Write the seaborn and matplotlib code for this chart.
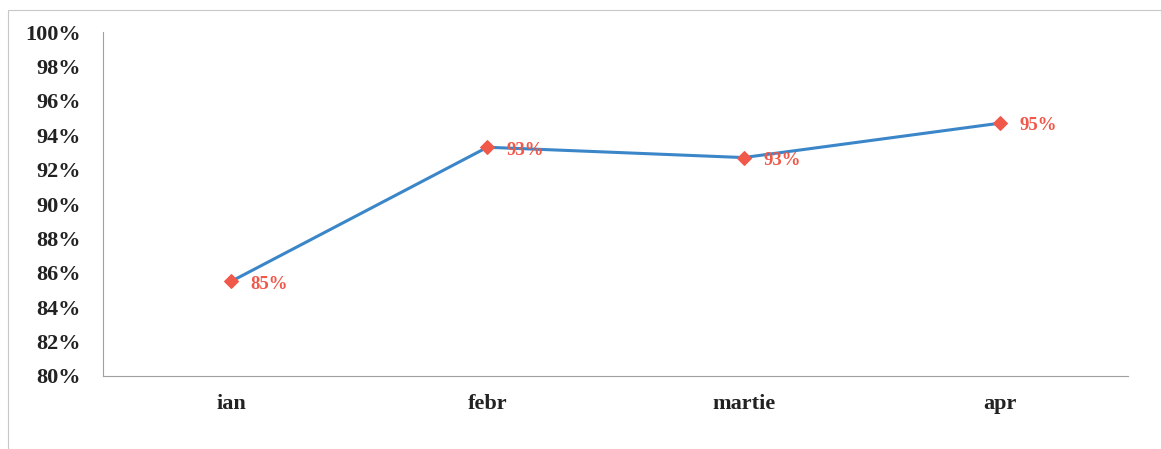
import numpy as np
import pandas as pd
import matplotlib
matplotlib.use("Agg")
import matplotlib.pyplot as plt
import seaborn as sns
from matplotlib.patches import Rectangle
from matplotlib.ticker import FixedLocator, PercentFormatter

# data
months = ["ian", "febr", "martie", "apr"]
values = [85.5, 93.3, 92.7, 94.7]
labels = ["85%", "93%", "93%", "95%"]

sns.set_style("white")
plt.rcParams['font.family'] = ['Liberation Serif', 'DejaVu Serif']

df = pd.DataFrame({"pos": np.arange(len(months)), "val": values})

fig = plt.figure(figsize=(11.61, 4.49), dpi=100)
ax = fig.add_axes([0.0887, 0.1626, 0.8829, 0.7661])

# outer chart border
fig.add_artist(Rectangle((8 / 1161, -0.05), 1.1, 1 - 10 / 449 + 0.05,
                         transform=fig.transFigure, fill=False,
                         edgecolor="#c8c8c8", linewidth=0.8))

sns.lineplot(data=df, x="pos", y="val", ax=ax, color="#3a86c8", linewidth=2.2,
             marker="D", markersize=7.5, markerfacecolor="#f0584a",
             markeredgecolor="#f0584a")

for x, y, t in zip(df["pos"], df["val"], labels):
    ax.annotate(t, (x, y), xytext=(14, -2), textcoords="offset points",
                ha="left", va="center", color="#f0584a", fontsize=13.5,
                fontweight="bold")

ax.set_xlim(-0.5, len(months) - 0.5)
ax.set_ylim(80, 100)
ax.yaxis.set_major_locator(FixedLocator(np.arange(80, 101, 2)))
ax.yaxis.set_major_formatter(PercentFormatter(decimals=0))
ax.set_xticks(np.arange(len(months)))
ax.set_xticklabels(months)
ax.xaxis.set_minor_locator(FixedLocator(np.arange(-0.5, len(months), 1)))
ax.tick_params(axis="x", which="major", length=0, pad=13, labelsize=16)
ax.tick_params(axis="x", which="minor", length=5, color="#a0a0a0", direction="out")
ax.tick_params(axis="y", length=5, color="#a0a0a0", direction="out", pad=11,
               labelsize=16)
for lab in ax.get_xticklabels() + ax.get_yticklabels():
    lab.set_fontweight("bold")
    lab.set_color("#222222")

ax.set_xlabel("")
ax.set_ylabel("")
for s in ["top", "right"]:
    ax.spines[s].set_visible(False)
for s in ["left", "bottom"]:
    ax.spines[s].set_color("#a0a0a0")
    ax.spines[s].set_linewidth(0.8)

fig.savefig("out.png", dpi=100)
